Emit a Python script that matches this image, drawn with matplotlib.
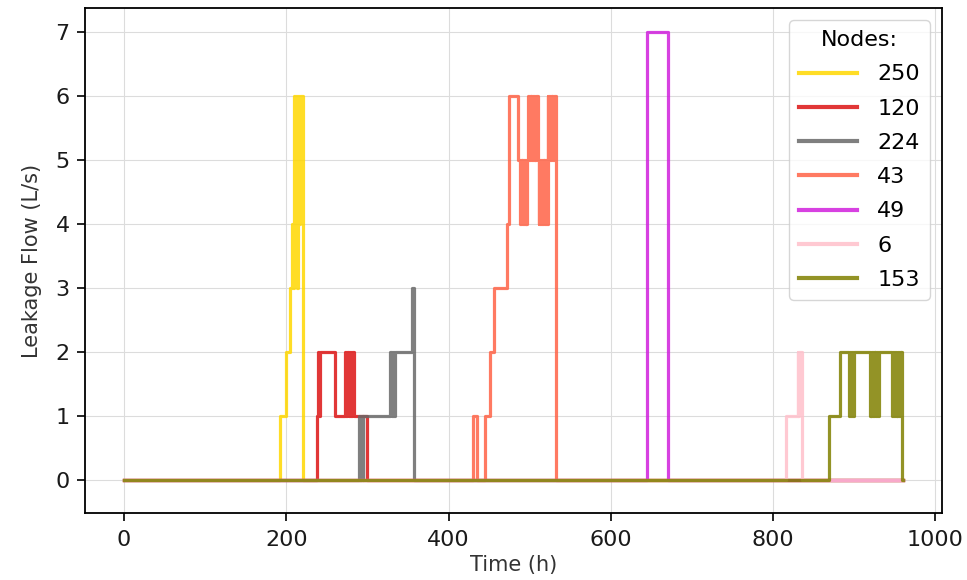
import matplotlib
matplotlib.use("Agg")
import matplotlib.pyplot as plt

# Leakage flow per node: (hour, level) change points, held until the next point
node_250 = [(0, 0), (192, 1), (200, 2), (205, 3), (207, 4), (208, 3), (209, 4),
            (210, 6), (211, 4), (212, 6), (213, 3), (214, 6), (216, 4), (217, 6),
            (221, 0), (960, 0)]
node_120 = [(0, 0), (238, 1), (239, 2), (240, 1), (241, 2), (260, 1), (272, 2),
            (274, 1), (275, 2), (277, 1), (278, 2), (280, 1), (281, 2), (284, 1),
            (300, 0), (960, 0)]
node_224 = [(0, 0), (290, 1), (291, 0), (292, 1), (294, 0), (295, 1), (328, 2),
            (330, 1), (331, 2), (333, 1), (334, 2), (355, 3), (357, 0), (960, 0)]
node_43 = [(0, 0), (430, 1), (435, 0), (445, 1), (451, 2), (456, 3), (472, 4),
           (474, 6), (485, 5),
           (488, 4), (489, 5), (490, 4), (491, 5), (492, 4), (493, 5), (494, 4),
           (495, 5), (496, 4), (497, 5),
           (498, 6), (499, 5), (500, 6), (501, 5), (502, 6), (503, 5), (504, 6),
           (505, 5), (506, 6), (507, 5), (508, 6), (510, 5),
           (511, 4), (512, 5), (513, 4), (514, 5), (515, 4), (516, 5), (517, 4),
           (518, 5), (519, 4), (520, 5), (521, 4),
           (522, 6), (523, 5), (524, 6), (525, 5), (526, 6), (527, 5), (528, 6),
           (529, 5), (530, 6), (532, 0), (960, 0)]
node_49 = [(0, 0), (645, 7), (670, 0), (960, 0)]
node_6 = [(0, 0), (816, 1), (830, 2), (831, 1), (832, 2), (835, 0), (960, 0)]
node_153 = [(0, 0), (869, 1), (882, 2), (894, 1), (895, 2), (896, 1), (897, 2),
            (898, 1), (900, 2), (919, 1), (920, 2), (921, 1), (922, 2), (923, 1),
            (924, 2), (925, 1), (926, 2), (927, 1), (928, 2), (929, 1), (931, 2),
            (947, 1), (948, 2), (949, 1), (950, 2), (951, 1), (952, 2), (953, 1),
            (954, 2), (955, 1), (956, 2), (957, 1), (958, 2), (959, 0), (960, 0)]

node_labels = ["250", "120", "224", "43", "49", "6", "153"]
node_series = [node_250, node_120, node_224, node_43, node_49, node_6, node_153]
node_colors = ["gold", "#dc1414", "dimgray", "tomato", "#d020dc", "pink", "olive"]

y_ticks = [0, 1, 2, 3, 4, 5, 6, 7]
x_ticks = [0, 200, 400, 600, 800, 1000]

fig = plt.figure(figsize=(9.67, 5.8), dpi=100)
ax = fig.add_axes([0.0879, 0.1155, 0.8862, 0.8707])

for label, series, color in zip(node_labels, node_series, node_colors):
    hours = [p[0] for p in series]
    flow = [p[1] for p in series]
    ax.step(hours, flow, where="post", color=color, lw=2.3, alpha=0.85,
            label=label)

ax.set_xlim(-48, 1008)
ax.set_ylim(-0.52, 7.37)
ax.set_xticks(x_ticks)
ax.set_yticks(y_ticks)
ax.grid(True, color="#dcdcdc", lw=0.8)
ax.set_axisbelow(True)

for side in ax.spines.values():
    side.set_color("black")
    side.set_linewidth(1.3)

ax.tick_params(axis="both", direction="out", length=6, width=1.2,
               color="black", labelcolor="#1a1a1a")
ax.tick_params(axis="y", labelsize=16, pad=5)
ax.tick_params(axis="x", labelsize=16, pad=6)

ax.set_xlabel("Time (h)", fontsize=15, color="#333333", labelpad=4)
ax.set_ylabel("Leakage Flow (L/s)", fontsize=15, color="#333333", labelpad=10)

leg = ax.legend(title="Nodes:", loc="upper right", fontsize=16,
                title_fontsize=16, handlelength=2.6, handletextpad=0.9,
                labelspacing=0.64, borderpad=0.45, frameon=True, fancybox=True,
                edgecolor="#cccccc", borderaxespad=0.55)
for h in leg.get_lines():
    h.set_linewidth(3.0)
leg.get_frame().set_linewidth(1.0)

fig.savefig("out.png", dpi=100)
